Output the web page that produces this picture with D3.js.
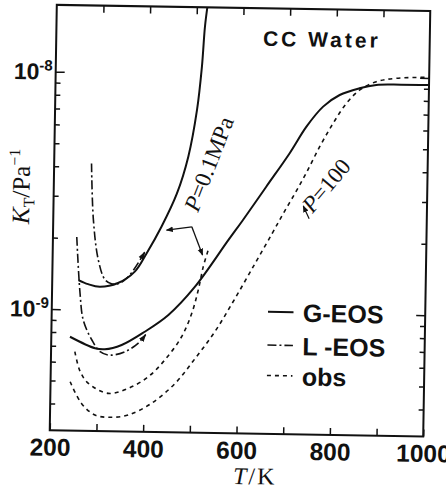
<!DOCTYPE html>
<html><head><meta charset="utf-8">
<script src="https://cdn.jsdelivr.net/npm/d3@7"></script>
<style>
html,body{margin:0;padding:0;background:#fff;}
svg{display:block;}
</style></head>
<body>
<svg id="c" width="446" height="497"></svg>
<script>
// ---- data (T in K, K_T in Pa^-1) ----
const gEos01T = [256, 277, 302, 341, 377, 401, 432, 464, 487, 504, 513, 518, 523];
const gEos01K = [1.33e-9, 1.28e-9, 1.25e-9, 1.30e-9, 1.46e-9, 1.74e-9, 2.26e-9, 3.13e-9, 4.48e-9, 7.06e-9, 1.076e-8, 1.58e-8, 1.95e-8];
const lEos01T = [280, 286, 298, 313, 327, 345, 366, 397];
const lEos01K = [4.13e-9, 2.39e-9, 1.62e-9, 1.34e-9, 1.29e-9, 1.30e-9, 1.41e-9, 1.76e-9];
const obs01T = [251, 263, 281, 324, 367, 409, 444, 479, 500, 513, 523, 533];
const obs01K = [6.63e-10, 5.48e-10, 4.89e-10, 4.45e-10, 4.69e-10, 5.26e-10, 6.21e-10, 7.80e-10, 9.81e-10, 1.23e-9, 1.545e-9, 1.82e-9];
const gEos100T = [240, 294, 315, 351, 400, 450, 506, 576, 606, 655, 704, 739, 774, 809, 851, 887, 940, 1000];
const gEos100K = [7.66e-10, 6.88e-10, 6.82e-10, 7.13e-10, 8.14e-10, 9.61e-10, 1.27e-9, 2.01e-9, 2.44e-9, 3.39e-9, 4.71e-9, 6.11e-9, 7.44e-9, 8.35e-9, 8.94e-9, 9.26e-9, 9.32e-9, 9.33e-9];
const lEos100T = [251, 260, 268, 287, 305, 326, 358, 386, 402];
const lEos100K = [2.02e-9, 1.17e-9, 9.0e-10, 7.45e-10, 6.66e-10, 6.45e-10, 6.68e-10, 7.27e-10, 7.92e-10];
const obs100T = [242, 267, 296, 329, 368, 417, 467, 509, 550, 592, 634, 669, 692, 717, 740, 768, 796, 824, 852, 887, 929, 1000];
const obs100K = [4.95e-10, 4.02e-10, 3.60e-10, 3.53e-10, 3.62e-10, 4.07e-10, 4.96e-10, 6.34e-10, 8.23e-10, 1.14e-9, 1.61e-9, 2.15e-9, 2.61e-9, 3.20e-9, 3.89e-9, 5.04e-9, 6.34e-9, 7.72e-9, 8.80e-9, 9.56e-9, 9.91e-9, 1.006e-8];

const xTicks = [200, 300, 400, 500, 600, 700, 800, 900, 1000];
const xLabels = [200, 400, 600, 800, 1000];
const yMajor = [1e-9, 1e-8];
const yExp = ["-9", "-8"];
const yMinor = [4e-10, 5e-10, 6e-10, 7e-10, 8e-10, 9e-10, 2e-9, 3e-9, 4e-9, 5e-9, 6e-9, 7e-9, 8e-9, 9e-9];
const legendNames = ["G-EOS", "L -EOS", "obs"];
const chartTitle = "CC Water";
// annotation anchors (data coords)
const arrow01From = [497, 2.27e-9];
const arrow01To = [[443, 2.19e-9], [521, 1.73e-9]];
const label01At = [510, 2.6e-9];
const label100At = [755, 2.62e-9];
const arrow100 = [[748, 2.5e-9], [735, 2.83e-9]];

// ---- layout ----
const L = 53.25, R = 426.75, T = 7.95, B = 433.45;
const x = d3.scaleLinear().domain([200, 1000]).range([L, R]);
const y = d3.scaleLog().domain([3.08e-10, 1.913e-8]).range([B, T]);

const svg = d3.select("#c");
const defs = svg.append("defs");
const root = svg.append("g").attr("transform", "rotate(0.95,240,220.7)");

defs.append("clipPath").attr("id", "clip").append("rect")
  .attr("x", L).attr("y", T).attr("width", R - L).attr("height", B - T);
defs.append("marker").attr("id", "ah").attr("viewBox", "0 0 10 10")
  .attr("refX", 9).attr("refY", 5).attr("markerWidth", 7).attr("markerHeight", 7)
  .attr("orient", "auto").attr("markerUnits", "userSpaceOnUse")
  .append("path").attr("d", "M0,1 L10,5 L0,9 Z").attr("fill", "#111");
defs.append("marker").attr("id", "ah2").attr("viewBox", "0 0 10 10")
  .attr("refX", 9).attr("refY", 5).attr("markerWidth", 8).attr("markerHeight", 8)
  .attr("orient", "auto").attr("markerUnits", "userSpaceOnUse")
  .append("path").attr("d", "M0,1.5 L10,5 L0,8.5 Z").attr("fill", "#111");

const tickFont = "'Liberation Sans', Arial, sans-serif";
const serif = "'Liberation Serif', 'Times New Roman', serif";

// frame
root.append("rect").attr("x", L).attr("y", T).attr("width", R - L).attr("height", B - T)
  .attr("fill", "none").attr("stroke", "#111").attr("stroke-width", 2);

// bottom axis
const axB = root.append("g").attr("transform", `translate(0,${B})`)
  .call(d3.axisBottom(x).tickValues(xTicks).tickSize(-7).tickPadding(8)
    .tickFormat(d => xLabels.includes(d) ? d3.format("d")(d) : ""));
axB.select(".domain").remove();
axB.selectAll("line").attr("stroke", "#111").attr("stroke-width", 1.5);
axB.selectAll("text").attr("font-family", tickFont).attr("font-weight", "bold")
  .attr("font-size", 24.5).attr("fill", "#111");

// top axis
const axT = root.append("g").attr("transform", `translate(0,${T})`)
  .call(d3.axisTop(x).tickValues(xTicks.slice(1, -1)).tickSize(-7).tickFormat(""));
axT.select(".domain").remove();
axT.selectAll("line").attr("stroke", "#111").attr("stroke-width", 1.5);

// left/right axes
function yAxis(gen, tx) {
  const g1 = root.append("g").attr("transform", `translate(${tx},0)`)
    .call(gen(y).tickValues(yMinor).tickSize(-5).tickFormat(""));
  g1.select(".domain").remove();
  g1.selectAll("line").attr("stroke", "#111").attr("stroke-width", 1.5);
  const g2 = root.append("g").attr("transform", `translate(${tx},0)`)
    .call(gen(y).tickValues(yMajor).tickSize(-9).tickFormat(""));
  g2.select(".domain").remove();
  g2.selectAll("line").attr("stroke", "#111").attr("stroke-width", 1.5);
}
yAxis(d3.axisLeft, L);
yAxis(d3.axisRight, R);

// y tick labels 10^n
yMajor.forEach((v, i) => {
  const t = root.append("text").attr("x", L - 3).attr("y", y(v) + 8)
    .attr("text-anchor", "end").attr("font-family", tickFont).attr("font-weight", "bold")
    .attr("font-size", 23).attr("fill", "#111");
  t.append("tspan").text("10");
  t.append("tspan").attr("dy", -9).attr("font-size", 15).text(yExp[i]);
});

// axis titles
const yl = root.append("text").attr("transform", "translate(29,190) rotate(-90)")
  .attr("text-anchor", "middle").attr("font-family", serif).attr("font-size", 25).attr("fill", "#111");
yl.append("tspan").attr("font-style", "italic").text("K");
yl.append("tspan").attr("font-size", 16).attr("dy", 5).text("T");
yl.append("tspan").attr("dy", -5).text("/Pa");
yl.append("tspan").attr("font-size", 16).attr("dy", -10).text("\u22121");

const xl = root.append("text").attr("x", 259).attr("y", 484)
  .attr("text-anchor", "middle").attr("font-family", serif).attr("font-size", 24)
  .attr("letter-spacing", 2).attr("fill", "#111");
xl.append("tspan").attr("font-style", "italic").text("T");
xl.append("tspan").text("/K");

// curves
const line = d3.line().x(d => x(d[0])).y(d => y(d[1])).curve(d3.curveCatmullRom.alpha(0.5));
const zip = (a, b) => a.map((v, i) => [v, b[i]]);
const plot = root.append("g").attr("clip-path", "url(#clip)");
const styles = {
  g: {w: 2, dash: null},
  l: {w: 1.6, dash: "9,3,2,3"},
  o: {w: 1.6, dash: "4,4"}
};
[[gEos01T, gEos01K, "g"], [lEos01T, lEos01K, "l"], [obs01T, obs01K, "o"],
 [gEos100T, gEos100K, "g"], [lEos100T, lEos100K, "l"], [obs100T, obs100K, "o"]]
.forEach(([tt, kk, s]) => {
  plot.append("path").attr("d", line(zip(tt, kk))).attr("fill", "none")
    .attr("stroke", "#111").attr("stroke-width", styles[s].w)
    .attr("stroke-dasharray", styles[s].dash)
    .attr("marker-end", s === "l" ? "url(#ah2)" : null);
});

// annotations
arrow01To.forEach(p => {
  root.append("line").attr("x1", x(arrow01From[0])).attr("y1", y(arrow01From[1]))
    .attr("x2", x(p[0])).attr("y2", y(p[1])).attr("stroke", "#111").attr("stroke-width", 1.3)
    .attr("marker-end", "url(#ah)");
});
root.append("line").attr("x1", x(arrow100[0][0])).attr("y1", y(arrow100[0][1]))
  .attr("x2", x(arrow100[1][0])).attr("y2", y(arrow100[1][1])).attr("stroke", "#111")
  .attr("stroke-width", 1.2).attr("marker-end", "url(#ah)");

function pLabel(at, ang, rest) {
  const t = root.append("text")
    .attr("transform", `translate(${x(at[0])},${y(at[1])}) rotate(${ang})`)
    .attr("font-family", serif).attr("font-size", 23).attr("fill", "#111");
  t.append("tspan").attr("font-style", "italic").text("P");
  t.append("tspan").text(rest);
}
pLabel(label01At, -69.6, "=0.1MPa");
pLabel(label100At, -51, "=100");

// title
root.append("text").attr("x", 260).attr("y", 45.5).attr("font-family", tickFont)
  .attr("font-weight", "bold").attr("font-size", 21).attr("letter-spacing", 3)
  .attr("fill", "#111").text(chartTitle);

// legend
const legY = [311.3, 344.6, 375];
const legKeys = ["g", "l", "o"];
legendNames.forEach((n, i) => {
  root.append("line").attr("x1", 269.5).attr("x2", 295).attr("y1", legY[i]).attr("y2", legY[i])
    .attr("stroke", "#111").attr("stroke-width", styles[legKeys[i]].w)
    .attr("stroke-dasharray", styles[legKeys[i]].dash);
  root.append("text").attr("x", 304.5).attr("y", legY[i] + 9.5)
    .attr("font-family", tickFont).attr("font-weight", "bold").attr("font-size", 25)
    .attr("fill", "#111").text(n);
});
</script>
</body></html>
